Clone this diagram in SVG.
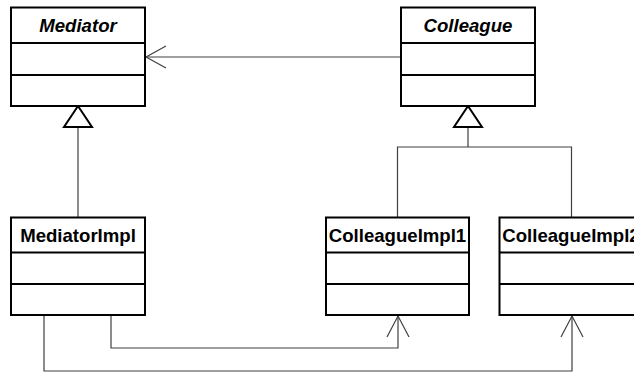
<svg xmlns="http://www.w3.org/2000/svg" width="634" height="373" viewBox="0 0 634 373">
<style>
.box{fill:#fff;stroke:#000;stroke-width:2}
.div{stroke:#000;stroke-width:2}
.t{font-family:"Liberation Sans",Arial,sans-serif;font-size:18.6px;font-weight:bold;text-anchor:middle;fill:#000}
.it{font-style:italic}
.c{fill:none;stroke:#404040;stroke-width:1.2}
.tri{fill:#fff;stroke:#000;stroke-width:2}
</style>
<rect width="634" height="373" fill="#fff"/>
<g id="connectors">
<path class="c" d="M401,57 H146"/>
<path class="c" d="M166,46 L146,57 L166,68"/>
<path class="c" d="M78,127 V217"/>
<path class="c" d="M468,127 V147 M397.5,217 V147 H571.5 V217"/>
<path class="c" d="M111,315 V348 H398 V316"/>
<path class="c" d="M387,337 L398,316 L409,337"/>
<path class="c" d="M44,315 V371 H572 V316"/>
<path class="c" d="M561,337 L572,316 L583,337"/>
<polygon class="tri" points="78,106 64,127 92,127"/>
<polygon class="tri" points="468,106 454,127 482,127"/>
</g>
<g id="Mediator">
<rect class="box" x="11" y="7.5" width="134" height="98.5"/>
<line class="div" x1="11" y1="43" x2="145" y2="43"/>
<line class="div" x1="11" y1="75" x2="145" y2="75"/>
<text class="t it" x="78" y="31.5">Mediator</text>
</g>
<g id="Colleague">
<rect class="box" x="401" y="7.5" width="134" height="98.5"/>
<line class="div" x1="401" y1="43" x2="535" y2="43"/>
<line class="div" x1="401" y1="75" x2="535" y2="75"/>
<text class="t it" x="468" y="31.5">Colleague</text>
</g>
<g id="MediatorImpl">
<rect class="box" x="11" y="217.5" width="134" height="97.5"/>
<line class="div" x1="11" y1="252.5" x2="145" y2="252.5"/>
<line class="div" x1="11" y1="284" x2="145" y2="284"/>
<text class="t" x="78" y="242">MediatorImpl</text>
</g>
<g id="ColleagueImpl1">
<rect class="box" x="326" y="217.5" width="143" height="97.5"/>
<line class="div" x1="326" y1="252.5" x2="469" y2="252.5"/>
<line class="div" x1="326" y1="284" x2="469" y2="284"/>
<text class="t" x="397.5" y="242">ColleagueImpl1</text>
</g>
<g id="ColleagueImpl2">
<rect class="box" x="499.5" y="217.5" width="143" height="97.5"/>
<line class="div" x1="499.5" y1="252.5" x2="642.5" y2="252.5"/>
<line class="div" x1="499.5" y1="284" x2="642.5" y2="284"/>
<text class="t" x="571" y="242">ColleagueImpl2</text>
</g>
</svg>
